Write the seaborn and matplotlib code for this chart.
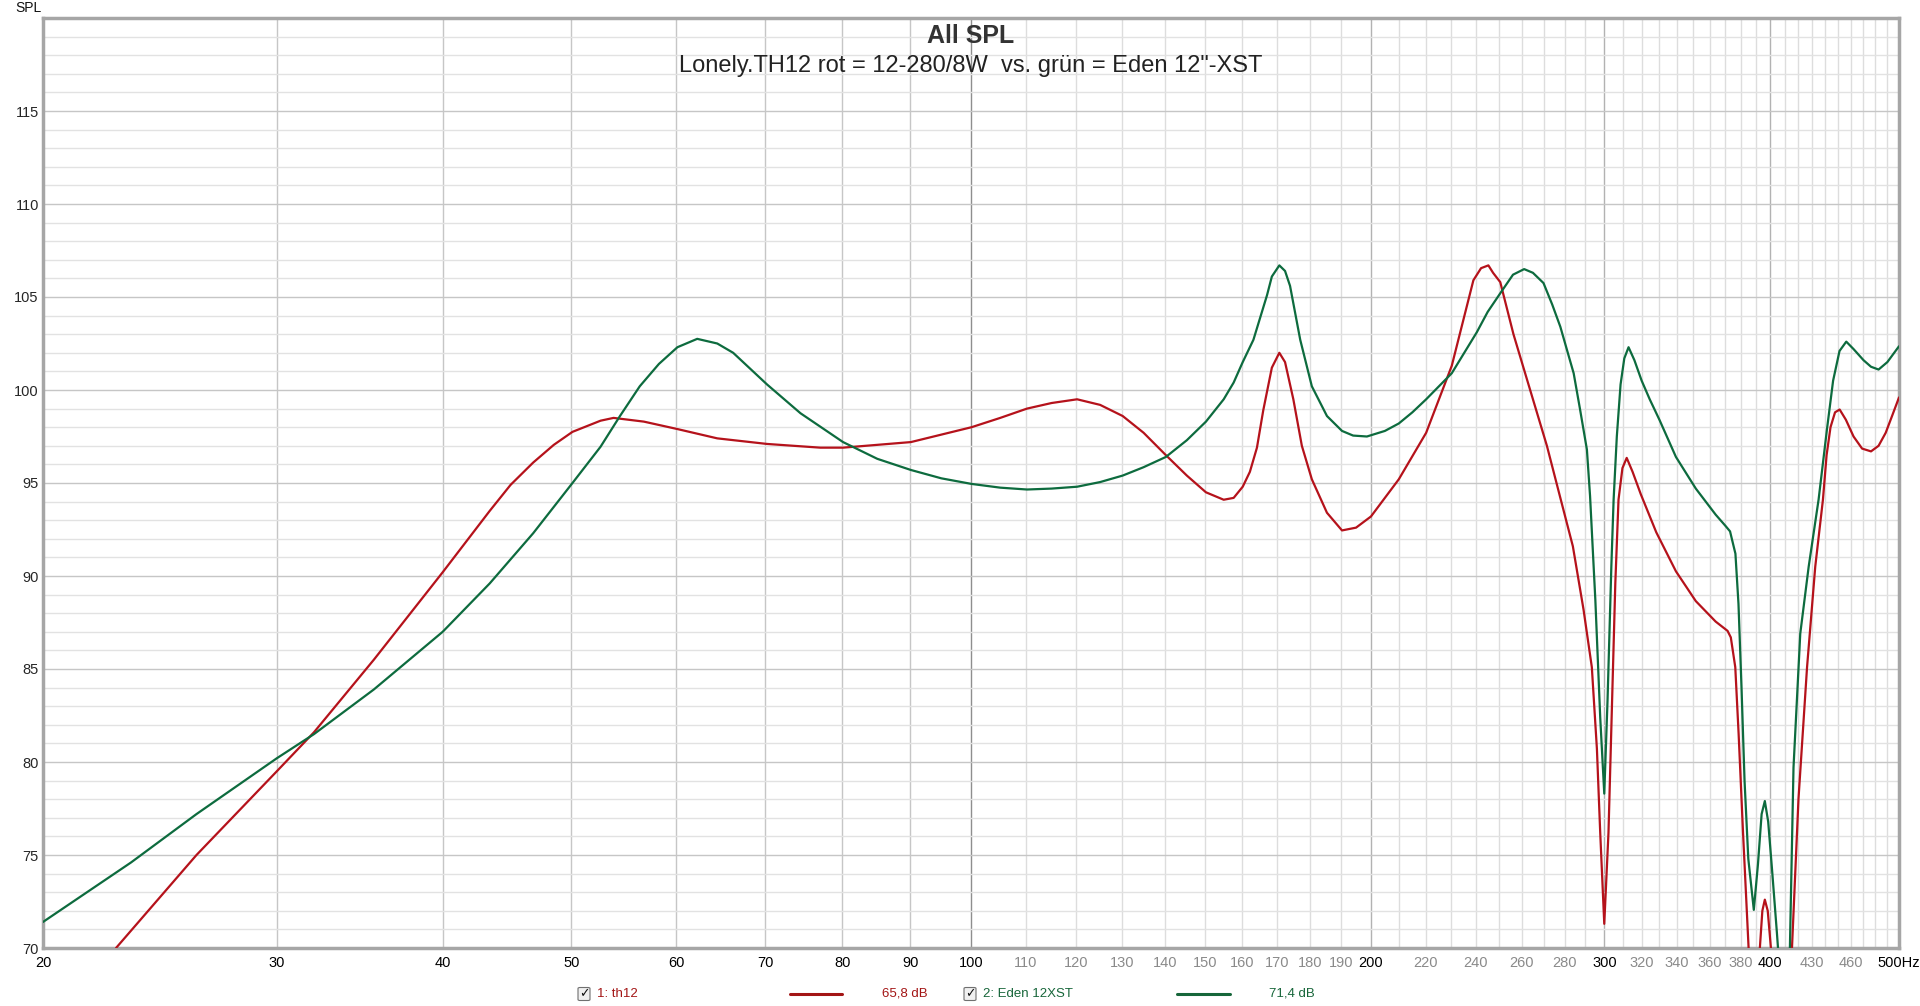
import pandas as pd
import matplotlib
matplotlib.use("Agg")
import matplotlib.pyplot as plt
import seaborn as sns
from matplotlib.patches import FancyBboxPatch
from matplotlib.lines import Line2D

th12_hz = [22.7, 26.1, 30.0, 32.0, 35.5, 40.0, 43.4, 45.0, 46.8, 48.5, 50.1, 52.6, 53.8, 56.7, 60.1,
           64.4, 70.2, 77.0, 80.1, 90.1, 100.1, 105.2, 110.2, 115.0, 120.2, 125.1, 130.1, 134.9,
           140.2, 145.4, 150.3, 155.0, 157.7, 160.2, 162.2, 164.2, 166.0, 168.5, 170.7, 172.4,
           174.9, 177.5, 180.6, 185.4, 190.3, 195.0, 200.1, 210.0, 220.2, 230.2, 239.0, 242.2,
           245.3, 247.3, 250.4, 256.2, 262.2, 271.5, 277.9, 284.0, 289.3, 293.5, 296.1, 297.8,
           299.9, 302.1, 304.0, 305.7, 307.4, 309.5, 311.8, 315.0, 319.5, 328.2, 339.6, 351.5,
           363.8, 371.4, 373.5, 376.4, 378.6, 381.5, 385.2, 389.0, 392.8, 394.5, 396.2, 398.2,
           401.5, 408.0, 415.3, 420.0, 426.3, 432.4, 438.2, 441.0, 444.0, 447.5, 451.1, 456.0,
           462.1, 469.0, 476.3, 482.6, 488.6, 494.0, 498.8, 500.0]
th12_db = [70.0, 75.0, 79.5, 81.6, 85.5, 90.2, 93.5, 94.9, 96.1, 97.05, 97.75, 98.35, 98.5, 98.3, 97.9,
           97.4, 97.1, 96.9, 96.9, 97.2, 98.0, 98.5, 99.0, 99.3, 99.5, 99.2, 98.6, 97.7,
           96.5, 95.4, 94.5, 94.1, 94.2, 94.8, 95.6, 96.9, 98.9, 101.2, 102.0, 101.5,
           99.5, 97.0, 95.2, 93.4, 92.45, 92.6, 93.2, 95.2, 97.7, 101.3, 105.9, 106.55,
           106.7, 106.3, 105.8, 103.0, 100.6, 97.0, 94.2, 91.6, 88.2, 85.1, 80.7, 76.2,
           71.3, 76.2, 83.3, 89.6, 94.1, 95.8, 96.35, 95.6, 94.4, 92.35, 90.25, 88.65,
           87.55, 87.05, 86.7, 85.1, 81.5, 76.2, 70.0, 65.0, 70.0, 72.0, 72.6, 72.0,
           69.0, 62.0, 70.0, 78.0, 85.1, 90.5, 94.1, 96.5, 98.0, 98.8, 98.95, 98.4,
           97.5, 96.85, 96.7, 97.0, 97.7, 98.6, 99.4, 99.6]

eden_hz = [20.0, 23.3, 26.1, 30.0, 32.0, 35.5, 40.0, 43.4, 46.8, 50.1, 52.6, 54.4, 56.3, 58.2,
           60.1, 62.2, 64.4, 66.2, 70.2, 74.4, 80.1, 85.0, 90.1, 95.0, 100.1, 105.2, 110.2, 115.0,
           120.2, 125.1, 130.1, 134.9, 140.2, 145.4, 150.3, 155.0, 157.7, 160.2, 163.2, 167.1,
           168.5, 170.7, 172.4, 173.9, 177.0, 180.6, 185.4, 190.3, 194.0, 198.7, 205.0, 210.0,
           215.0, 220.2, 230.2, 240.4, 245.0, 250.4, 256.0, 261.0, 265.0, 269.9, 274.0, 277.9,
           281.0, 284.4, 287.5, 291.0, 292.6, 295.3, 297.8, 299.9, 301.6, 303.6, 304.8, 306.5,
           308.5, 310.5, 312.8, 316.0, 320.0, 324.5, 330.0, 339.6, 351.5, 363.8, 370.0, 373.0,
           376.5, 378.5, 380.5, 382.5, 385.0, 388.7, 391.5, 394.0, 396.2, 398.5, 401.2, 404.6,
           406.3, 410.0, 413.8, 416.4, 421.3, 427.5, 434.9, 441.3, 446.0, 451.0, 456.3, 462.1,
           470.2, 476.3, 482.6, 490.0, 498.2, 500.0]
eden_db = [71.4, 74.6, 77.2, 80.2, 81.5, 83.9, 87.0, 89.6, 92.3, 95.0, 96.95, 98.6, 100.2, 101.4,
           102.3, 102.75, 102.5, 102.0, 100.3, 98.75, 97.2, 96.3, 95.7, 95.25, 94.95, 94.75, 94.65, 94.7,
           94.8, 95.05, 95.4, 95.85, 96.4, 97.3, 98.3, 99.5, 100.4, 101.5, 102.7, 105.1,
           106.1, 106.7, 106.4, 105.6, 102.7, 100.2, 98.6, 97.8, 97.55, 97.5, 97.8, 98.2,
           98.8, 99.5, 100.9, 103.1, 104.2, 105.2, 106.2, 106.5, 106.3, 105.75, 104.6, 103.4,
           102.2, 100.9, 99.0, 96.8, 94.3, 88.7, 82.4, 78.3, 83.3, 90.5, 94.1, 97.5,
           100.3, 101.7, 102.3, 101.6, 100.5, 99.5, 98.4, 96.4, 94.7, 93.3, 92.7, 92.4,
           91.2, 88.5, 84.0, 79.0, 74.8, 72.05, 74.5, 77.2, 77.9, 76.8, 74.2, 70.8,
           69.0, 62.0, 70.0, 79.7, 86.9, 90.5, 94.1, 97.9, 100.5, 102.1, 102.6, 102.2,
           101.6, 101.25, 101.1, 101.5, 102.2, 102.35]

series_names = ["1: th12", "2: Eden 12XST"]
series_levels = ["65,8 dB", "71,4 dB"]
series_colors = ["#b5121b", "#0d6b3e"]
legend_colors = ["#a31515", "#17663a"]

xtick_vals = [20, 30, 40, 50, 60, 70, 80, 90, 100, 110, 120, 130, 140, 150, 160, 170, 180, 190,
              200, 220, 240, 260, 280, 300, 320, 340, 360, 380, 400, 430, 460, 500]
xtick_labels = [str(v) for v in xtick_vals[:-1]] + ["500Hz"]
xtick_dark = [20, 30, 40, 50, 60, 70, 80, 90, 100, 200, 300, 400, 500]
ytick_vals = [70, 75, 80, 85, 90, 95, 100, 105, 110, 115]

df = pd.concat([
    pd.DataFrame({"hz": th12_hz, "db": th12_db, "series": series_names[0]}),
    pd.DataFrame({"hz": eden_hz, "db": eden_db, "series": series_names[1]}),
])

sns.set_theme(style="white")
plt.rcParams["font.family"] = ["Liberation Sans Narrow", "Liberation Sans", "DejaVu Sans"]

W, H = 1920, 1006
fig = plt.figure(figsize=(W / 100, H / 100), dpi=100)
fig.patch.set_facecolor("white")
x0, x1, y0, y1 = 43, 1899, 18, 948
ax = fig.add_axes([x0 / W, 1 - y1 / H, (x1 - x0) / W, (y1 - y0) / H])

# REW style grid: 10 Hz / 1 dB fine lines, heavier every decade step / 5 dB
for f in range(30, 500, 10):
    if f == 100:
        c = "#8e8e8e"
    elif f in (200, 300, 400):
        c = "#b2b2b2"
    elif f < 100:
        c = "#c6c6c6"
    else:
        c = "#dddddd"
    ax.axvline(f, color=c, lw=1, zorder=0)
for d in range(71, 120):
    ax.axhline(d, color="#c6c6c6" if d % 5 == 0 else "#e2e2e2", lw=1, zorder=0)

sns.lineplot(data=df, x="hz", y="db", hue="series", palette=series_colors,
             estimator=None, sort=False, legend=False, lw=1.6, ax=ax, zorder=3)

ax.set_xscale("log")
ax.set_xlim(20, 500)
ax.set_ylim(70, 120)
ax.set_xticks(xtick_vals)
ax.set_xticklabels(xtick_labels)
ax.minorticks_off()
ax.set_yticks(ytick_vals)
ax.tick_params(axis="both", length=0, labelsize=10.5)
ax.tick_params(axis="x", pad=6)
ax.tick_params(axis="y", pad=3)
for lab, v in zip(ax.get_xticklabels(), xtick_vals):
    lab.set_color("#000000" if v in xtick_dark else "#8a8a8a")
ax.set_xlabel("")
ax.set_ylabel("")
for s in ax.spines.values():
    s.set_color("#a6a6a6")
    s.set_linewidth(2.5)

# titles
fig.text(971 / W, 1 - 36 / H, "All SPL", ha="center", va="center", fontsize=18,
         weight="bold", color="#333333", family=["Liberation Sans", "DejaVu Sans"])
fig.text(971 / W, 1 - 66 / H, 'Lonely.TH12 rot = 12-280/8W  vs. grün = Eden 12"-XST',
         ha="center", va="center", fontsize=17, color="#222222",
         family=["Liberation Sans", "DejaVu Sans"])
fig.text(15 / W, 1 - 8 / H, "SPL", ha="left", va="center", fontsize=10, color="#111111")

# legend strip at the bottom
ly = 1 - 994 / H
box_x = [584, 970]
name_x = [597, 983]
line_x = [(790, 842), (1177, 1230)]
level_x = [882, 1269]
for i in range(2):
    bw, bh = 12 / W, 13 / H
    fig.add_artist(FancyBboxPatch((box_x[i] / W - bw / 2, ly - bh / 2), bw, bh,
                                  boxstyle="round,pad=0,rounding_size=0.001",
                                  transform=fig.transFigure, facecolor="#f0f0f0",
                                  edgecolor="#707070", lw=0.8))
    fig.text(box_x[i] / W, ly, "\u2713", ha="center", va="center", fontsize=9,
             weight="bold", color="#111111", family=["DejaVu Sans"])
    fig.text(name_x[i] / W, ly, series_names[i], ha="left", va="center", fontsize=9.5,
             color=legend_colors[i])
    fig.add_artist(Line2D([line_x[i][0] / W, line_x[i][1] / W], [ly, ly],
                          transform=fig.transFigure, color=legend_colors[i], lw=2.2))
    fig.text(level_x[i] / W, ly, series_levels[i], ha="left", va="center", fontsize=9.5,
             color=legend_colors[i])

fig.savefig("out.png", dpi=100, facecolor="white")
